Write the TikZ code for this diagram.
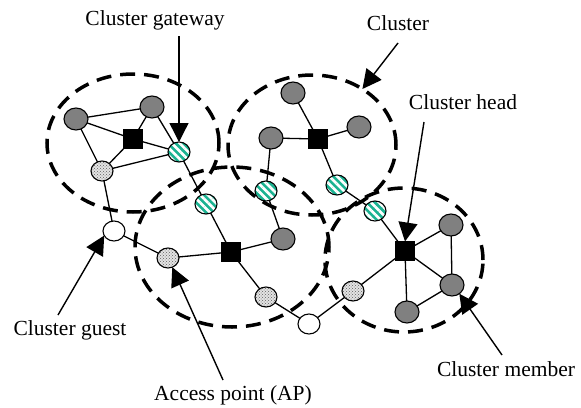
\documentclass[tikz,border=0pt]{standalone}
\usepackage{fontspec}
\setmainfont{Liberation Serif}
\usetikzlibrary{shapes.geometric,arrows.meta,patterns,patterns.meta}
\definecolor{tealone}{RGB}{26,178,145}
\definecolor{nodegray}{RGB}{128,128,128}
\begin{document}
\begin{tikzpicture}[x=1pt,y=-1pt,
  cluster/.style={ellipse, draw, line width=3.5pt, dash pattern=on 15pt off 9pt, inner sep=0pt, outer sep=0pt},
  nd/.style={ellipse, draw, line width=1.1pt, inner sep=0pt, outer sep=0pt, minimum width=22pt, minimum height=20pt},
  member/.style={nd, fill=nodegray, minimum width=24pt, minimum height=22pt},
  gateway/.style={nd, preaction={fill=tealone}, pattern={Lines[angle=-45,distance=5.5pt,line width=2.6pt]}, pattern color=white},
  ap/.style={nd, preaction={fill=gray!22}, pattern=crosshatch dots, pattern color=gray!75!black},
  guest/.style={nd, fill=white},
  head/.style={rectangle, draw, fill=black, minimum size=19pt, inner sep=0pt, outer sep=0pt},
  link/.style={line width=1.3pt},
  pointer/.style={line width=1.4pt, -{Triangle[length=19pt,width=19pt]}},
  lbl/.style={font=\fontsize{21.5}{24}\selectfont, inner sep=0pt, anchor=base}
]
\useasboundingbox (0,0) rectangle (581,407);

% clusters
\node[cluster, minimum width=172pt, minimum height=138pt] (cl1) at (133,143) {};
\node[cluster, minimum width=168pt, minimum height=140pt] (cl2) at (312,145) {};
\node[cluster, minimum width=194pt, minimum height=160pt] (cl3) at (232,247) {};
\node[cluster, minimum width=158pt, minimum height=144pt] (cl4) at (404,260) {};

% nodes
\node[member] (g1) at (76,119) {};
\node[member] (g2) at (152,107) {};
\node[head] (h1) at (133,139) {};
\node[gateway] (w1) at (179,152) {};
\node[ap] (a1) at (102,171) {};

\node[gateway] (w2) at (206,204) {};
\node[head] (h3) at (231,252) {};
\node[ap] (a2) at (168,258) {};
\node[guest] (c1) at (114,231) {};
\node[member] (g5) at (283,239) {};
\node[gateway] (w3) at (266,191) {};
\node[ap] (a3) at (266,297) {};
\node[guest] (c2) at (309,324) {};

\node[member] (g4) at (271,138) {};
\node[head] (h2) at (318,139) {};
\node[member] (g3) at (293,93) {};
\node[member] (g6) at (359,127) {};
\node[gateway] (w4) at (337,185) {};
\node[gateway] (w5) at (375,211) {};

\node[head] (h4) at (405,251) {};
\node[member] (g7) at (451,225) {};
\node[member] (g8) at (452,285) {};
\node[member] (g9) at (407,312) {};
\node[ap] (a4) at (353,291) {};

% links
\draw[link] (g1) -- (g2);
\draw[link] (g1) -- (h1);
\draw[link] (g2) -- (h1);
\draw[link] (g1) -- (a1);
\draw[link] (h1) -- (a1);
\draw[link] (h1) -- (w1);
\draw[link] (a1) -- (w1);
\draw[link] (g2) -- (w1);
\draw[link] (w1) -- (w2);
\draw[link] (w2) -- (h3);
\draw[link] (a1) -- (c1);
\draw[link] (c1) -- (a2);
\draw[link] (a2) -- (h3);
\draw[link] (h3) -- (g5);
\draw[link] (h3) -- (a3);
\draw[link] (a3) -- (c2);
\draw[link] (c2) -- (a4);
\draw[link] (a4) -- (h4);
\draw[link] (g5) -- (w3);
\draw[link] (w3) -- (g4);
\draw[link] (g4) -- (h2);
\draw[link] (h2) -- (g3);
\draw[link] (h2) -- (g6);
\draw[link] (h2) -- (w4);
\draw[link] (w4) -- (w5);
\draw[link] (w5) -- (h4);
\draw[link] (h4) -- (g7);
\draw[link] (h4) -- (g8);
\draw[link] (h4) -- (g9);
\draw[link] (g7) -- (g8);
\draw[link] (g8) -- (g9);

% labels
\node[lbl] (lgw) at (155,25) {Cluster gateway};
\node[lbl] (lcl) at (398,30) {Cluster};
\node[lbl] (lch) at (463,109) {Cluster head};
\node[lbl] (lcg) at (70,335) {Cluster guest};
\node[lbl] (lap) at (233,400) {Access point (AP)};
\node[lbl] (lcm) at (506,376) {Cluster member};

\coordinate (tgw) at (179,36);
\coordinate (tcl) at (398,43);
\coordinate (tch) at (424,122);
\coordinate (tcg) at (58,315);
\coordinate (tap) at (223,380);
\coordinate (tcm) at (502,355);

\draw[pointer] (tgw) -- (w1.north);
\draw[pointer] (tcl) -- (cl2.48);
\draw[pointer] (tch) -- (h4.north);
\draw[pointer] (tcg) -- (c1.205);
\draw[pointer] (tap) -- (a2.295);
\draw[pointer] (tcm) -- (g8.310);
\end{tikzpicture}
\end{document}
